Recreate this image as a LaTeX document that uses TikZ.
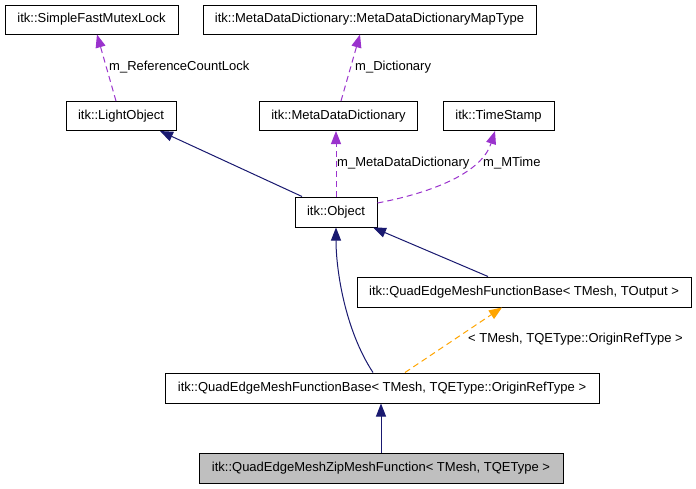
\documentclass[tikz,border=0pt]{standalone}
\usepackage{fontspec}
\setmainfont{Liberation Sans}
\usetikzlibrary{arrows.meta}
\definecolor{edgeblue}{RGB}{25,25,112}
\definecolor{edgepurple}{RGB}{154,50,205}
\definecolor{edgeorange}{RGB}{255,165,0}
\definecolor{boxgray}{RGB}{191,191,191}
\tikzset{
  cls/.style={draw=black, line width=1pt, fill=white, inner sep=0pt, minimum height=29pt,
    font=\fontsize{13}{15}\selectfont, text=black},
  inherit/.style={draw=edgeblue, line width=1pt, -{Triangle[length=13pt,width=10pt]}},
  member/.style={draw=edgepurple, line width=1pt, dash pattern=on 6pt off 4pt, -{Triangle[length=13pt,width=10pt,fill=edgepurple]}},
  templ/.style={draw=edgeorange, line width=1pt, dash pattern=on 6pt off 4pt, -{Triangle[length=13pt,width=10pt,fill=edgeorange]}},
  lbl/.style={anchor=west, inner sep=0pt, font=\fontsize{13}{15}\selectfont, text=black},
}
\begin{document}
\begin{tikzpicture}[x=1pt, y=-1pt]
\useasboundingbox[fill=white] (0,0) rectangle (696,488);

\node[cls, minimum width=173pt] (sfml) at (91.5,19.5) {itk::SimpleFastMutexLock};
\node[cls, minimum width=333pt] (maptype) at (369.5,19.5) {itk::MetaDataDictionary::MetaDataDictionaryMapType};
\node[cls, minimum width=110pt] (light) at (121,116) {itk::LightObject};
\node[cls, minimum width=158pt] (mdd) at (338.5,116) {itk::MetaDataDictionary};
\node[cls, minimum width=111pt] (ts) at (498.5,116) {itk::TimeStamp};
\node[cls, minimum width=82pt, minimum height=30pt] (obj) at (336,212) {itk::Object};
\node[cls, minimum width=334pt, minimum height=30pt] (qout) at (524,292) {itk::QuadEdgeMeshFunctionBase< TMesh, TOutput >};
\node[cls, minimum width=434pt, minimum height=30pt] (qorig) at (382,388) {itk::QuadEdgeMeshFunctionBase< TMesh, TQEType::OriginRefType >};
\node[cls, fill=boxgray, minimum width=364pt, minimum height=30pt] (zip) at (381,468) {itk::QuadEdgeMeshZipMeshFunction< TMesh, TQEType >};

% member relations
\draw[member] ([xshift=-5pt]light.north) -- ([xshift=5.5pt]sfml.south);
\node[lbl] (l1) at (109,67) {m\_ReferenceCountLock};
\draw[member] ([xshift=2.5pt]mdd.north) -- ([xshift=-9.5pt]maptype.south);
\node[lbl] (l2) at (355,67) {m\_Dictionary};
\draw[member] (obj.north) -- ([xshift=-2.5pt]mdd.south);
\node[lbl] (l3) at (337,163) {m\_MetaDataDictionary};
\draw[member] ([yshift=9pt]obj.east) .. controls (435,192) and (482,172) .. ([xshift=-3.5pt]ts.south);
\node[lbl] (l4) at (483,163) {m\_MTime};

% inheritance
\draw[inherit] ([xshift=-34pt]obj.north) -- ([xshift=39pt]light.south);
\draw[inherit] ([xshift=-36pt]qout.north) -- ([xshift=37pt]obj.south);
\draw[inherit] ([xshift=-9pt]qorig.north) .. controls (345,330) and (336,270) .. (obj.south);
\draw[inherit] (zip.north) -- ([xshift=-1pt]qorig.south);

% template instantiation
\draw[templ] ([xshift=23pt]qorig.north) -- ([xshift=-22pt]qout.south);
\node[lbl] (l5) at (468,339) {< TMesh, TQEType::OriginRefType >};
\end{tikzpicture}
\end{document}
